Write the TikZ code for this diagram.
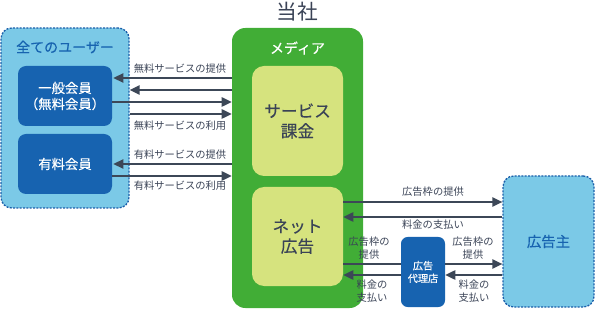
\documentclass[tikz,border=0pt]{standalone}
\usepackage{fontspec}
\setmainfont{Noto Sans CJK JP}
\newfontfamily\medfont[FakeBold=0.3]{Noto Sans CJK JP}
\usetikzlibrary{arrows.meta}
\definecolor{lblue}{HTML}{7BC9E7}
\definecolor{dashb}{HTML}{1B5FAA}
\definecolor{dblue}{HTML}{1763B0}
\definecolor{mgreen}{HTML}{41AD36}
\definecolor{inner}{HTML}{D6E37E}
\definecolor{arrc}{HTML}{3C4757}
\definecolor{txtc}{HTML}{3A4356}
\tikzset{
  dashbox/.style={draw=dashb, fill=lblue, line width=1pt, dash pattern=on 1.5pt off 1pt, rounded corners=8pt},
  memberbox/.style={fill=dblue, draw=none, rounded corners=6pt, text=white, font=\medfont\fontsize{10}{12}\selectfont, align=center},
  mediabox/.style={fill=mgreen, draw=none, rounded corners=10pt},
  innerbox/.style={fill=inner, draw=none, rounded corners=9pt, text=txtc, font=\medfont\fontsize{12.5}{15}\selectfont, align=center},
  arr/.style={draw=arrc, line width=1.1pt, -{Triangle[length=7.5pt,width=7pt]}},
  plainline/.style={draw=arrc, line width=1.1pt},
  lab/.style={text=txtc, font=\fontsize{7.7}{9.5}\selectfont, align=center, inner sep=0pt},
  ttl/.style={inner sep=0pt}
}
\begin{document}
\begin{tikzpicture}[x=0.75pt,y=-0.75pt]
\useasboundingbox (0,0) rectangle (595,309);
% left users group
\node[dashbox, minimum width=96pt, minimum height=135pt] (users) at (65,118) {};
\node[ttl, text=dblue, font=\medfont\fontsize{10.5}{12}\selectfont] (userst) at (65,47) {全てのユーザー};
\node[memberbox, minimum width=70.5pt, minimum height=45pt] (free) at (65,96) {一般会員\\（無料会員）};
\node[memberbox, minimum width=70.5pt, minimum height=45pt] (paid) at (65,164) {有料会員};
% media
\node[ttl, text=txtc, font=\fontsize{15.5}{18}\selectfont] (company) at (297.5,12) {当社};
\node[mediabox, minimum width=98.25pt, minimum height=210pt] (media) at (297.5,168) {};
\node[ttl, text=white, font=\medfont\fontsize{10.5}{12}\selectfont] (mediat) at (297.5,48) {メディア};
\node[innerbox, minimum width=68.25pt, minimum height=82.5pt] (svc) at (297.5,121) {サービス\\課金};
\node[innerbox, minimum width=68.25pt, minimum height=74.25pt] (net) at (297.5,236.5) {ネット\\広告};
% advertiser
\node[dashbox, minimum width=68.25pt, minimum height=98.25pt, text=dblue, font=\medfont\fontsize{10.8}{12}\selectfont] (adv) at (548.5,241.5) {広告主};
\node[memberbox, minimum width=33pt, minimum height=52.5pt, rounded corners=5pt, font=\medfont\fontsize{7.6}{9.5}\selectfont] (agency) at (423,272) {広告\\代理店};
% left arrows
\draw[arr] (media.west |- 0,78) -- ([xshift=0.8pt]free.east |- 0,78);
\draw[arr] (media.west |- 0,90) -- (users.east |- 0,90);
\draw[arr] (free.east |- 0,102) -- (media.west |- 0,102);
\draw[arr] (users.east |- 0,114) -- (media.west |- 0,114);
\draw[arr] (media.west |- 0,164) -- ([xshift=0.8pt]paid.east |- 0,164);
\draw[arr] (paid.east |- 0,176) -- (media.west |- 0,176);
\node[lab] (l1) at (180,69) {無料サービスの提供};
\node[lab] (l2) at (180,126) {無料サービスの利用};
\node[lab] (l3) at (180,155) {有料サービスの提供};
\node[lab] (l4) at (180,186) {有料サービスの利用};
% right arrows
\draw[arr] (net.east |- 0,202) -- (adv.west |- 0,202);
\draw[arr] (adv.west |- 0,217) -- (net.east |- 0,217);
\draw[plainline] (net.east |- 0,264) -- (agency.west |- 0,264);
\draw[arr] (agency.west |- 0,275) -- (net.east |- 0,275);
\draw[arr] (agency.east |- 0,264) -- (adv.west |- 0,264);
\draw[arr] (adv.west |- 0,275) -- (agency.east |- 0,275);
\node[lab] (r1) at (433,192) {広告枠の提供};
\node[lab] (r2) at (433,225) {料金の支払い};
\node[lab] (r3) at (369,248) {広告枠の\\提供};
\node[lab] (r4) at (372,291) {料金の\\支払い};
\node[lab] (r5) at (473,248) {広告枠の\\提供};
\node[lab] (r6) at (474,291) {料金の\\支払い};
\end{tikzpicture}
\end{document}
